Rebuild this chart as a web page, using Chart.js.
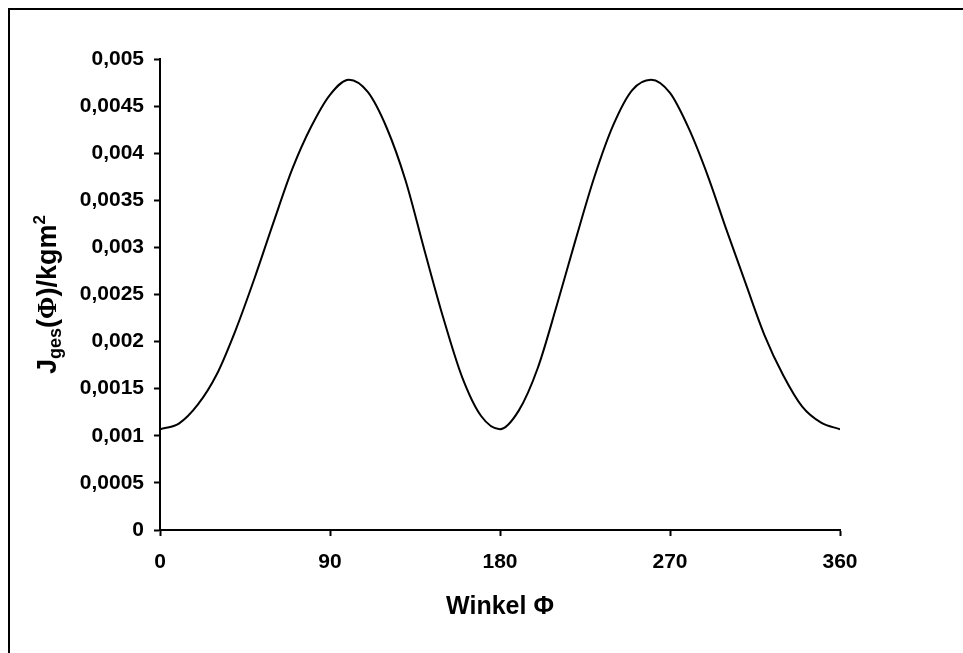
<!DOCTYPE html>
<html><head><meta charset="utf-8">
<script src="https://cdn.jsdelivr.net/npm/chart.js@4.4.0/dist/chart.umd.min.js"></script>
<style>html,body{margin:0;padding:0;background:#fff;overflow:hidden}#wrap{position:relative;width:963px;height:653px}</style>
</head><body><div id="wrap"><canvas id="c" width="963" height="653"></canvas></div>
<script>
const angles = [0,10,20,30,40,50,60,70,80,90,100,110,120,130,140,150,160,170,180,190,200,210,220,230,240,250,260,270,280,290,300,310,320,330,340,350,360];
const jges = [0.00107,0.00113,0.00133,0.00165,0.00212,0.00267,0.00326,0.00383,0.00428,0.00462,0.00478,0.00465,0.00427,0.00371,0.00297,0.00225,0.00162,0.00121,0.00107,0.00127,0.00172,0.00238,0.00308,0.00375,0.00430,0.00467,0.00478,0.00464,0.00426,0.00376,0.00318,0.00262,0.00207,0.00164,0.00131,0.00114,0.00107];
const xTickValues = [0,90,180,270,360];
const xTickLabels = ['0','90','180','270','360'];
const yTickValues = [0,0.0005,0.001,0.0015,0.002,0.0025,0.003,0.0035,0.004,0.0045,0.005];
const yTickLabels = ['0','0,0005','0,001','0,0015','0,002','0,0025','0,003','0,0035','0,004','0,0045','0,005'];
const xAxisTitle = 'Winkel \u03A6';
const yTitleParts = ['J','ges','(','\u03A6',')/kgm','2'];

const SANS = '"Liberation Sans", Arial, sans-serif';
const SERIF = '"Liberation Serif", "Times New Roman", serif';

const framePlugin = {
  id: 'frame',
  beforeDraw(chart) {
    const ctx = chart.ctx;
    ctx.save();
    ctx.fillStyle = '#fff';
    ctx.fillRect(0, 0, chart.width, chart.height);
    ctx.strokeStyle = '#000';
    ctx.lineWidth = 2;
    ctx.beginPath();
    ctx.moveTo(9, chart.height); ctx.lineTo(9, 9); ctx.lineTo(chart.width, 9);
    ctx.stroke();
    ctx.restore();
  }
};

const yTitlePlugin = {
  id: 'ytitle',
  afterDraw(chart) {
    const ctx = chart.ctx;
    const area = chart.chartArea;
    const styles = [
      {f: 'bold 27px ' + SANS, dy: 0},
      {f: 'bold 18px ' + SANS, dy: 5},
      {f: 'bold 27px ' + SANS, dy: 0},
      {f: 'bold 27px ' + SERIF, dy: 0},
      {f: 'bold 27px ' + SANS, dy: 0},
      {f: 'bold 17px ' + SANS, dy: -11}
    ];
    ctx.save();
    let total = 0;
    const widths = yTitleParts.map((t, i) => { ctx.font = styles[i].f; const w = ctx.measureText(t).width; total += w; return w; });
    ctx.translate(56, (area.top + area.bottom) / 2);
    ctx.rotate(-Math.PI / 2);
    ctx.fillStyle = '#000';
    ctx.textBaseline = 'alphabetic';
    ctx.textAlign = 'left';
    let x = -total / 2;
    for (let i = 0; i < yTitleParts.length; i++) {
      ctx.font = styles[i].f;
      ctx.fillText(yTitleParts[i], x, styles[i].dy);
      x += widths[i];
    }
    ctx.restore();
  }
};

new Chart(document.getElementById('c'), {
  type: 'line',
  data: {
    datasets: [{
      data: angles.map((a, i) => ({x: a, y: jges[i]})),
      borderColor: '#000',
      borderWidth: 2,
      pointRadius: 0,
      fill: false,
      cubicInterpolationMode: 'monotone'
    }]
  },
  options: {
    responsive: false,
    animation: false,
    devicePixelRatio: 1,
    layout: {padding: {left: 0, top: 59, right: 123, bottom: 0}},
    plugins: {legend: {display: false}, tooltip: {enabled: false}},
    scales: {
      x: {
        type: 'linear', min: 0, max: 360,
        afterBuildTicks: s => { s.ticks = xTickValues.map(v => ({value: v})); },
        afterFit: s => { s.height = 123; },
        ticks: {callback: (v, i) => xTickLabels[i], autoSkip: false, maxRotation: 0, color: '#000', padding: 14,
          font: {family: SANS, weight: 'bold', size: 21}},
        grid: {display: true, drawOnChartArea: false, drawTicks: true, tickLength: 6, tickColor: '#000', tickWidth: 2},
        border: {display: true, color: '#000', width: 2},
        title: {display: true, text: xAxisTitle, color: '#000', font: {family: SANS, weight: 'bold', size: 25}, padding: {top: 0, bottom: 31}}
      },
      y: {
        type: 'linear', min: 0, max: 0.005,
        afterBuildTicks: s => { s.ticks = yTickValues.map(v => ({value: v})); },
        afterFit: s => { s.width = 160; },
        ticks: {callback: (v, i) => yTickLabels[i], autoSkip: false, color: '#000', padding: 10,
          font: {family: SANS, weight: 'bold', size: 21}},
        grid: {display: true, drawOnChartArea: false, drawTicks: true, tickLength: 6, tickColor: '#000', tickWidth: 2},
        border: {display: true, color: '#000', width: 2}
      }
    }
  },
  plugins: [framePlugin, yTitlePlugin]
});
</script></body></html>
